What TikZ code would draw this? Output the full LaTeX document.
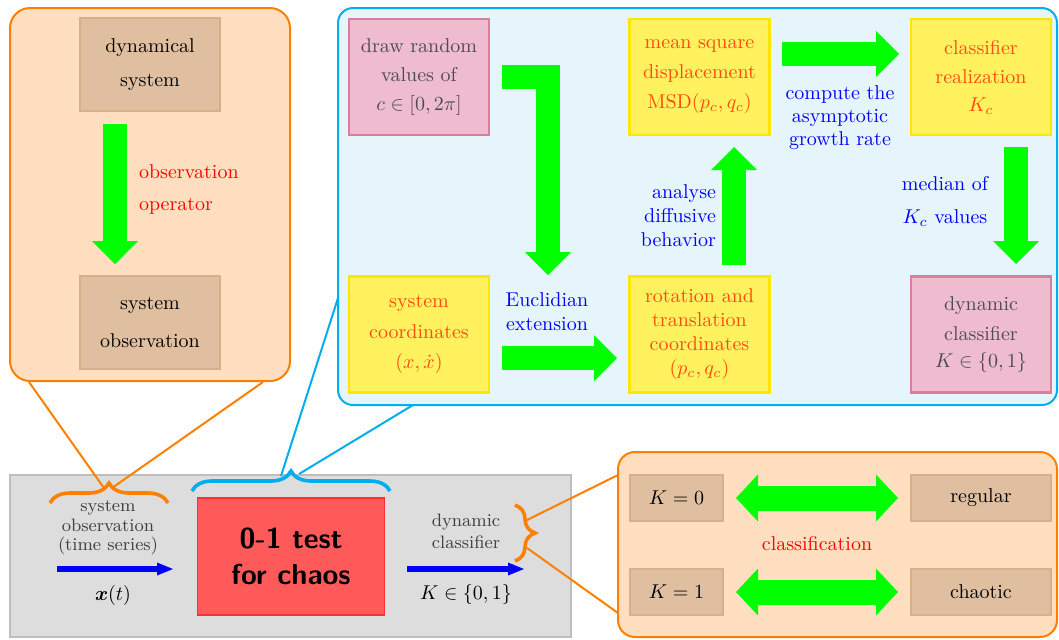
\documentclass[tikz,border=0pt]{standalone}
\usepackage{amsmath}
\usetikzlibrary{arrows.meta,decorations.pathreplacing}
\definecolor{orangeF}{HTML}{FFDFBF}
\definecolor{orangeL}{HTML}{FF8000}
\definecolor{tanF}{HTML}{DFBF9F}
\definecolor{tanL}{HTML}{D6B089}
\definecolor{blueF}{HTML}{E6F5FC}
\definecolor{blueL}{HTML}{00AEEF}
\definecolor{pinkF}{HTML}{EFBBCF}
\definecolor{pinkL}{HTML}{DE7C9C}
\definecolor{yelF}{HTML}{FFF25E}
\definecolor{yelL}{HTML}{FFE600}
\definecolor{yelT}{HTML}{FF4A12}
\definecolor{arrowG}{HTML}{00FF00}
\definecolor{greyF}{HTML}{DDDDDD}
\definecolor{greyL}{HTML}{BEBEBE}
\definecolor{redF}{HTML}{FF5A5A}
\definecolor{redL}{HTML}{FF3030}
\begin{document}
\begin{tikzpicture}[x=0.5pt,y=-0.5pt,
  every node/.style={inner sep=0pt, outer sep=0pt},
  panelO/.style={draw=orangeL, fill=orangeF, line width=1pt},
  panelB/.style={draw=blueL, fill=blueF, line width=1pt, rounded corners=7.5pt},
  greybox/.style={draw=greyL, fill=greyF, line width=0.8pt},
  tanbox/.style={draw=tanL, fill=tanF, line width=1.3pt, align=center, text=black},
  pinkbox/.style={draw=pinkL, fill=pinkF, line width=1.2pt, align=center, text=black!70,
    minimum width=70pt, minimum height=58pt},
  yelbox/.style={draw=yelL, fill=yelF, line width=1.2pt, align=center, text=yelT,
    minimum width=70pt, minimum height=58pt},
  bluelabel/.style={text=blue, align=center},
  redlabel/.style={text=red},
  greylabel/.style={text=black!75, align=center},
  garrow/.style={draw=arrowG, line width=12pt, -{Triangle[length=11.5pt,width=23pt,line width=0pt]}},
  gdouble/.style={draw=arrowG, line width=12.5pt,
    {Triangle[length=11pt,width=23.5pt,line width=0pt]}-{Triangle[length=11pt,width=23.5pt,line width=0pt]}},
  barrow/.style={draw=blue, line width=2.6pt, -{Triangle[length=8pt,width=6.5pt,line width=0pt]}},
  callO/.style={draw=orangeL, line width=1pt},
  callB/.style={draw=blueL, line width=1pt},
  bracestyle/.style={decorate, decoration={brace, amplitude=10pt}, line width=1.8pt}
]
\useasboundingbox (0,0) rectangle (1059,639);

% ---------- panels ----------
\draw[panelO, rounded corners=10pt] (10,8) rectangle (290,381);
\draw[panelB] (338,8) rectangle (1057,405);
\draw[panelO, rounded corners=8.5pt] (618,452) rectangle (1057,637);
\draw[greybox] (10,475) rectangle (571,637);

% ---------- callout lines ----------
\coordinate (oL1) at (29,382);
\coordinate (oL2) at (263,382);
\coordinate (oT1) at (104,488);
\coordinate (oT2) at (112,488);
\coordinate (bP1) at (338,298);
\coordinate (bP2) at (413,405);
\coordinate (bT1) at (281,476);
\coordinate (bT2) at (299,474);
\coordinate (rB1) at (527,520);
\coordinate (rB2) at (527,548);
\coordinate (rP1) at (618,475);
\coordinate (rP2) at (618,613);
\draw[callO] (oL1) -- (oT1);
\draw[callO] (oL2) -- (oT2);
\draw[callB] (bP1) -- (bT1);
\draw[callB] (bP2) -- (bT2);
\draw[callO] (rB1) -- (rP1);
\draw[callO] (rB2) -- (rP2);

% ---------- braces ----------
\coordinate (br1a) at (50,503);
\coordinate (br1b) at (168,503);
\coordinate (br2a) at (192,491);
\coordinate (br2b) at (390,491);
\coordinate (br3a) at (515,505);
\coordinate (br3b) at (515,561);
\draw[bracestyle, draw=orangeL] (br1a) -- (br1b);
\draw[bracestyle, draw=blueL] (br2a) -- (br2b);
\draw[bracestyle, draw=orangeL] (br3a) -- (br3b);

% ---------- left panel ----------
\node[tanbox, minimum width=70pt, minimum height=46.5pt] (dyn) at (150,64.5)
  {dynamical\\[5pt]system};
\node[tanbox, minimum width=70pt, minimum height=46.5pt] (sobs) at (150,322.5)
  {system\\[7pt]observation};
\coordinate (g1a) at (115,124);
\coordinate (g1b) at (115,264);
\draw[garrow] (g1a) -- (g1b);
\node[redlabel, align=left, anchor=west] (oplab) at (139,189)
  {observation\\[4pt]operator};

% ---------- top panel ----------
\node[pinkbox] (draw) at (419,77)
  {draw random\\[2.3pt]values of\\[2.3pt]$c\in[0,2\pi]$};
\node[yelbox] (scoord) at (419,334.5)
  {system\\[3.5pt]coordinates\\[3pt]$(x,\dot{x})$};
\node[yelbox] (msd) at (699.5,77)
  {mean square\\[3pt]displacement\\[3pt]$\mathrm{MSD}(p_c,q_c)$};
\node[yelbox] (rot) at (699.5,334.5)
  {rotation and\\translation\\coordinates\\$(p_c,q_c)$};
\node[yelbox] (creal) at (981,77)
  {classifier\\[2.5pt]realization\\[2pt]$K_c$};
\node[pinkbox] (dclass) at (981,334.5)
  {dynamic\\[3pt]classifier\\[1.5pt]$K\in\{0,1\}$};

\coordinate (g2a) at (502,77);
\coordinate (g2b) at (548,275);
\draw[garrow] (g2a) -| (g2b);
\coordinate (g3a) at (502,358);
\coordinate (g3b) at (617,358);
\draw[garrow] (g3a) -- (g3b);
\coordinate (g4a) at (734,265);
\coordinate (g4b) at (734,147);
\draw[garrow] (g4a) -- (g4b);
\coordinate (g5a) at (782,54);
\coordinate (g5b) at (899,54);
\draw[garrow] (g5a) -- (g5b);
\coordinate (g6a) at (1016,147);
\coordinate (g6b) at (1016,264);
\draw[garrow] (g6a) -- (g6b);

\node[bluelabel] (eucl) at (547,311.5) {Euclidian\\extension};
\node[bluelabel, align=right, anchor=east] (anal) at (716,215.5)
  {analyse\\diffusive\\behavior};
\node[bluelabel] (comp) at (840,118)
  {compute the\\[-0.5pt]asymptotic\\[-0.5pt]growth rate};
\node[bluelabel] (med) at (945,201) {median of\\[4.5pt]$K_c$ values};

% ---------- bottom main box ----------
\node[draw=redL, fill=redF, line width=0.8pt, minimum width=93.5pt, minimum height=58.5pt,
  align=center, font=\Large\sffamily\bfseries] (test) at (291,556.5)
  {0-1 test\\for chaos};
\node[greylabel, font=\fontsize{9}{9.75}\selectfont] (obslab) at (108,528)
  {system\\observation\\(time series)};
\node[greylabel, font=\small] (dclab) at (466,531.5) {dynamic\\classifier};
\coordinate (b1a) at (57,569);
\coordinate (b1b) at (173,569);
\draw[barrow] (b1a) -- (b1b);
\coordinate (b2a) at (407,569);
\coordinate (b2b) at (524,569);
\draw[barrow] (b2a) -- (b2b);
\node (xt) at (113,595) {$\boldsymbol{x}(t)$};
\node (kk) at (466,594) {$K\in\{0,1\}$};

% ---------- right panel ----------
\node[tanbox, minimum width=46.5pt, minimum height=23pt] (k0) at (676.5,498) {$K=0$};
\node[tanbox, minimum width=46.5pt, minimum height=23pt] (k1) at (676.5,592) {$K=1$};
\node[tanbox, minimum width=70pt, minimum height=23pt] (reg) at (981,498) {regular};
\node[tanbox, minimum width=70pt, minimum height=23pt] (cha) at (981,592) {chaotic};
\coordinate (d1a) at (736,498);
\coordinate (d1b) at (898,498);
\coordinate (d2a) at (736,592);
\coordinate (d2b) at (898,592);
\draw[gdouble] (d1a) -- (d1b);
\draw[gdouble] (d2a) -- (d2b);
\node[redlabel] (clsf) at (817,544) {classification};
\end{tikzpicture}
\end{document}
